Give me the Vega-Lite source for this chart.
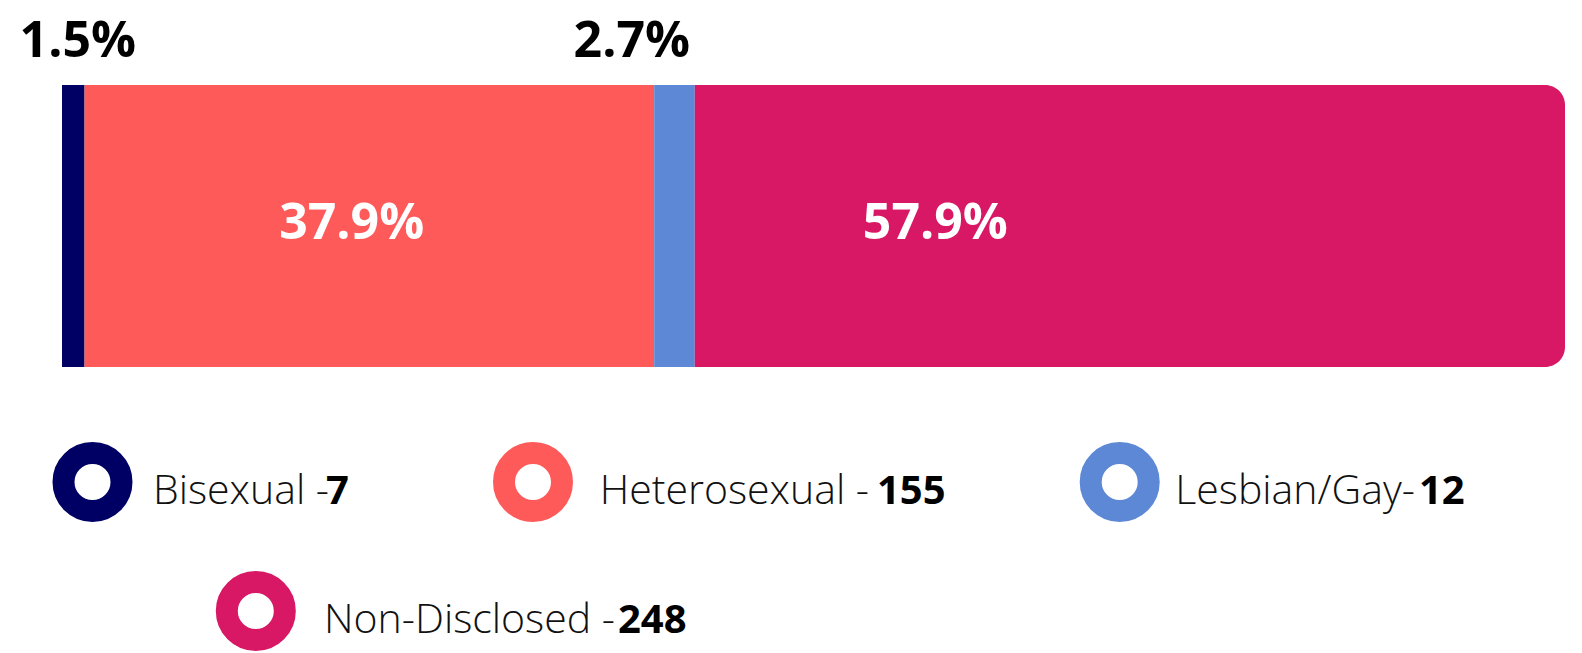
{
  "$schema": "https://vega.github.io/schema/vega-lite/v6.json",
  "width": 1582,
  "height": 653,
  "autosize": {"type": "none"},
  "padding": 0,
  "background": "white",
  "config": {"view": {"stroke": null}, "font": "Open Sans"},
  "data": {
    "values": [
      {"category": "Bisexual", "legend": "Bisexual -", "pct": 1.5, "count": 7},
      {"category": "Heterosexual", "legend": "Heterosexual -", "pct": 37.9, "count": 155},
      {"category": "Lesbian/Gay", "legend": "Lesbian/Gay-", "pct": 2.7, "count": 12},
      {"category": "Non-Disclosed", "legend": "Non-Disclosed -", "pct": 57.9, "count": 248}
    ]
  },
  "transform": [
    {"window": [{"op": "row_number", "as": "order"}]},
    {"stack": "pct", "groupby": [], "sort": [{"field": "order"}], "as": ["x0", "x1"]},
    {"calculate": "(datum.x0 + datum.x1) / 2", "as": "mid"},
    {"calculate": "format(datum.pct, '.1f') + '%'", "as": "label"}
  ],
  "layer": [
    {
      "layer": [
        {
          "transform": [{"filter": "datum.category !== 'Non-Disclosed'"}],
          "mark": {"type": "bar"},
          "encoding": {
            "x": {"field": "x0", "type": "quantitative", "scale": {"domain": [0, 100], "range": [62, 1565], "nice": false, "zero": false}, "axis": null},
            "x2": {"field": "x1"},
            "y": {"datum": "all", "type": "nominal", "scale": {"paddingInner": 0, "paddingOuter": 0.6578, "align": 0.2291}, "axis": null},
            "color": {"field": "category", "type": "nominal", "scale": {"domain": ["Bisexual", "Heterosexual", "Lesbian/Gay", "Non-Disclosed"], "range": ["#000064", "#FF5A5A", "#5C88D6", "#D81865"]}, "legend": null}
          }
        },
        {
          "transform": [{"filter": "datum.category === 'Non-Disclosed'"}],
          "mark": {"type": "bar", "cornerRadiusTopRight": 20, "cornerRadiusBottomRight": 20},
          "encoding": {
            "x": {"field": "x0", "type": "quantitative", "axis": null},
            "x2": {"field": "x1"},
            "y": {"datum": "all", "type": "nominal", "axis": null},
            "color": {"field": "category", "type": "nominal", "legend": null}
          }
        },
        {
          "transform": [{"filter": "datum.category === 'Bisexual'"}],
          "mark": {"type": "text", "fontWeight": "bold", "fontSize": 50, "align": "center", "baseline": "alphabetic", "dx": 4.5, "dy": -168.7, "fill": "#000000"},
          "encoding": {
            "x": {"field": "mid", "type": "quantitative", "axis": null},
            "y": {"datum": "all", "type": "nominal", "axis": null},
            "text": {"field": "label"}
          }
        },
        {
          "transform": [{"filter": "datum.category === 'Lesbian/Gay'"}],
          "mark": {"type": "text", "fontWeight": "bold", "fontSize": 50, "align": "center", "baseline": "alphabetic", "dx": -42.7, "dy": -168.7, "fill": "#000000"},
          "encoding": {
            "x": {"field": "mid", "type": "quantitative", "axis": null},
            "y": {"datum": "all", "type": "nominal", "axis": null},
            "text": {"field": "label"}
          }
        },
        {
          "transform": [{"filter": "datum.category === 'Heterosexual'"}],
          "mark": {"type": "text", "fontWeight": "bold", "fontSize": 50, "align": "center", "baseline": "alphabetic", "dx": -17.7, "dy": 13, "fill": "#FFFFFF"},
          "encoding": {
            "x": {"field": "mid", "type": "quantitative", "axis": null},
            "y": {"datum": "all", "type": "nominal", "axis": null},
            "text": {"field": "label"}
          }
        },
        {
          "transform": [{"filter": "datum.category === 'Non-Disclosed'"}],
          "mark": {"type": "text", "fontWeight": "bold", "fontSize": 50, "align": "center", "baseline": "alphabetic", "dx": -194.5, "dy": 13, "fill": "#FFFFFF"},
          "encoding": {
            "x": {"field": "mid", "type": "quantitative", "axis": null},
            "y": {"datum": "all", "type": "nominal", "axis": null},
            "text": {"field": "label"}
          }
        }
      ]
    },
    {
      "mark": {"type": "point", "shape": "circle", "size": 3364, "strokeWidth": 22, "fill": "white", "filled": false, "opacity": 1, "fillOpacity": 1, "strokeOpacity": 1},
      "encoding": {
        "x": {"field": "order", "type": "quantitative", "scale": {"domain": [1, 2, 3, 4], "range": [92.5, 533, 1119.7, 255.8], "nice": false, "zero": false}, "axis": null},
        "y": {"field": "order", "type": "quantitative", "scale": {"domain": [1, 2, 3, 4], "range": [482, 482, 482, 611], "nice": false, "zero": false}, "axis": null},
        "stroke": {"field": "category", "type": "nominal", "scale": {"domain": ["Bisexual", "Heterosexual", "Lesbian/Gay", "Non-Disclosed"], "range": ["#000064", "#FF5A5A", "#5C88D6", "#D81865"]}, "legend": null}
      }
    },
    {
      "mark": {"type": "text", "font": "Open Sans", "fontWeight": 300, "fontSize": 41, "align": "left", "baseline": "alphabetic", "dy": 22, "fill": "#111111"},
      "encoding": {
        "x": {"field": "order", "type": "quantitative", "scale": {"domain": [1, 2, 3, 4], "range": [153, 599.7, 1175.3, 324], "nice": false, "zero": false}, "axis": null},
        "y": {"field": "order", "type": "quantitative", "scale": {"domain": [1, 2, 3, 4], "range": [482, 482, 482, 611], "nice": false, "zero": false}, "axis": null},
        "text": {"field": "legend"}
      }
    },
    {
      "mark": {"type": "text", "fontWeight": "bold", "fontSize": 40, "align": "left", "baseline": "alphabetic", "dy": 22, "fill": "#000000"},
      "encoding": {
        "x": {"field": "order", "type": "quantitative", "scale": {"domain": [1, 2, 3, 4], "range": [326, 877, 1419, 618], "nice": false, "zero": false}, "axis": null},
        "y": {"field": "order", "type": "quantitative", "scale": {"domain": [1, 2, 3, 4], "range": [482, 482, 482, 611], "nice": false, "zero": false}, "axis": null},
        "text": {"field": "count", "type": "quantitative"}
      }
    }
  ],
  "resolve": {"scale": {"x": "independent", "y": "independent"}}
}
